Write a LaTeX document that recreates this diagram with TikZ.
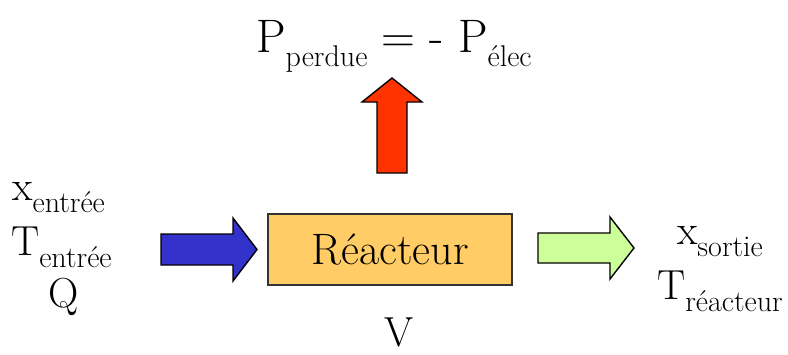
\documentclass[tikz,border=0pt]{standalone}
\definecolor{inblue}{RGB}{51,51,204}
\definecolor{outgreen}{RGB}{204,255,153}
\definecolor{lossred}{RGB}{255,51,0}
\definecolor{boxorange}{RGB}{255,204,102}
\newcommand\mysub[1]{\raisebox{-12pt}{\fontsize{30}{30}\selectfont #1}}
\newcommand\mytopsub[1]{\raisebox{-14pt}{\fontsize{30}{30}\selectfont #1}}
\begin{document}
\begin{tikzpicture}[x=1pt,y=-1pt,
  lbl/.style={inner sep=0pt, font=\fontsize{42}{42}\selectfont},
  toplbl/.style={inner sep=0pt, font=\fontsize{47}{47}\selectfont},
  blockarrow/.style={draw=black, line width=1.4pt, line join=miter}]
\useasboundingbox (0,0) rectangle (788,354);
% block arrows
\draw[blockarrow, fill=inblue] (161,234) -- (233,234) -- (233,218) -- (257,249.5) -- (233,281) -- (233,265) -- (161,265) -- cycle;
\draw[blockarrow, fill=outgreen] (538,233) -- (610,233) -- (610,217) -- (634,248) -- (610,279) -- (610,263) -- (538,263) -- cycle;
\draw[blockarrow, fill=lossred] (377,173) -- (377,102) -- (362,102) -- (392,78) -- (422,102) -- (407,102) -- (407,173) -- cycle;
% reactor
\node[draw=black!80, line width=1.2pt, fill=boxorange, minimum width=244pt, minimum height=71pt, inner sep=0pt,
  font=\fontsize{44}{44}\selectfont] (reactor) at (390,249.5) {Réacteur};
% labels
\node[lbl, anchor=base west] (xin) at (12,200) {x\mysub{entrée}};
\node[lbl, anchor=base west] (tin) at (11,255) {T\mysub{entrée}};
\node[lbl, anchor=base] (q) at (64,307) {Q};
\node[lbl, anchor=base] (xout) at (720,244) {x\mysub{sortie}};
\node[lbl, anchor=base] (tout) at (720,299) {T\mysub{réacteur}};
\node[toplbl, anchor=base west] (ploss) at (256,52) {P\mytopsub{perdue} = - P\mytopsub{élec}};
\node[lbl, anchor=base] (vol) at (399,346) {V};
\end{tikzpicture}
\end{document}
